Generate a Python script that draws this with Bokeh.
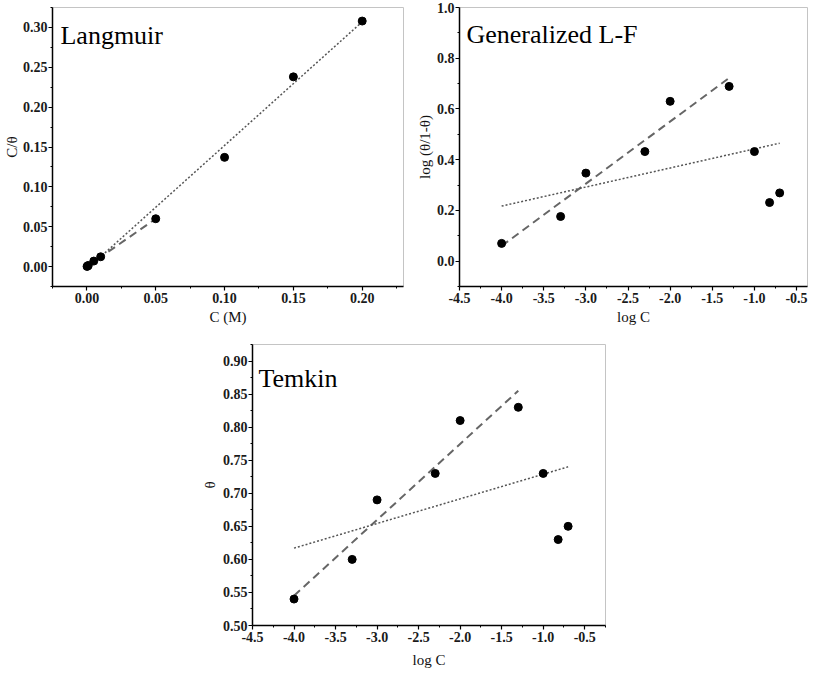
from bokeh.plotting import figure
from bokeh.layouts import row, column, Spacer
from bokeh.models import FixedTicker, NumeralTickFormatter, Label, Range1d
from bokeh.embed import file_html
from bokeh.resources import INLINE

# ---------------- data ----------------
conc = [0.0001, 0.0005, 0.001, 0.005, 0.01, 0.05, 0.1, 0.15, 0.2]
c_over_theta = [0.0002, 0.0008, 0.0014, 0.0069, 0.0123, 0.060, 0.137, 0.238, 0.308]

log_c = [-4.0, -3.3, -3.0, -2.3, -2.0, -1.3, -1.0, -0.82, -0.7]
log_theta_ratio = [0.070, 0.176, 0.347, 0.432, 0.630, 0.689, 0.432, 0.231, 0.269]
theta = [0.54, 0.60, 0.69, 0.73, 0.81, 0.83, 0.73, 0.63, 0.65]

# fitted lines (end points)
lang_dot_x = [0.0001, 0.2]
lang_dot_y = [-0.003, 0.307]
lang_dash_x = [0.0001, 0.05]
lang_dash_y = [0.0001, 0.060]
lf_dash_x = [-4.0, -1.3]
lf_dash_y = [0.060, 0.722]
lf_dot_x = [-4.0, -0.7]
lf_dot_y = [0.217, 0.465]
tk_dash_x = [-4.0, -1.3]
tk_dash_y = [0.545, 0.855]
tk_dot_x = [-4.0, -0.7]
tk_dot_y = [0.617, 0.740]

# ticks
lang_xticks = [0.0, 0.05, 0.10, 0.15, 0.20]
lang_yticks = [0.0, 0.05, 0.10, 0.15, 0.20, 0.25, 0.30]
logc_ticks = [-4.5, -4.0, -3.5, -3.0, -2.5, -2.0, -1.5, -1.0, -0.5]
lf_yticks = [0.0, 0.2, 0.4, 0.6, 0.8, 1.0]
tk_yticks = [0.50, 0.55, 0.60, 0.65, 0.70, 0.75, 0.80, 0.85, 0.90]

FONT = "Liberation Serif"


def minors(ticks, lo, hi):
    step = ticks[1] - ticks[0]
    out = []
    t = ticks[0] - step / 2
    while t <= hi + 1e-9:
        if t >= lo - 1e-9:
            out.append(round(t, 6))
        t += step
    return out


def make_fig(fw, fh, xr, yr, bl, br, bt, bb, xticks, yticks, xfmt, yfmt,
             xlabel, ylabel, title, tdx, tdy, xlab_standoff, ylab_standoff):
    p = figure(width=fw + bl + br, height=fh + bt + bb,
               x_range=Range1d(*xr), y_range=Range1d(*yr),
               output_backend="svg", toolbar_location=None,
               min_border_left=bl, min_border_right=br,
               min_border_top=bt, min_border_bottom=bb)
    p.grid.visible = False
    p.background_fill_color = "white"
    p.border_fill_color = "white"
    p.outline_line_color = "#c4c4c4"
    p.outline_line_width = 1

    p.xaxis.ticker = FixedTicker(ticks=xticks, minor_ticks=minors(xticks, *xr))
    p.yaxis.ticker = FixedTicker(ticks=yticks, minor_ticks=minors(yticks, *yr))
    p.xaxis.formatter = NumeralTickFormatter(format=xfmt)
    p.yaxis.formatter = NumeralTickFormatter(format=yfmt)
    for ax in (p.xaxis[0], p.yaxis[0]):
        ax.axis_line_color = "black"
        ax.axis_line_width = 1.5
        ax.major_tick_line_color = "black"
        ax.major_tick_line_width = 1.2
        ax.minor_tick_line_color = "black"
        ax.minor_tick_line_width = 1
        ax.major_tick_in = 0
        ax.major_tick_out = 4
        ax.minor_tick_in = 0
        ax.minor_tick_out = 2
        ax.major_label_text_font = FONT
        ax.major_label_text_font_size = "14px"
        ax.major_label_text_font_style = "bold"
        ax.major_label_text_color = "#1a1a1a"
        ax.axis_label_text_font = FONT
        ax.axis_label_text_font_size = "15px"
        ax.axis_label_text_font_style = "normal"
        ax.axis_label_text_color = "#111111"
        ax.major_label_standoff = 2
    p.yaxis.major_label_standoff = 1
    p.xaxis.axis_label = xlabel
    p.yaxis.axis_label = ylabel
    p.xaxis.axis_label_standoff = xlab_standoff
    p.yaxis.axis_label_standoff = ylab_standoff

    tx = xr[0] + tdx * (xr[1] - xr[0]) / fw
    ty = yr[1] - tdy * (yr[1] - yr[0]) / fh
    p.add_layout(Label(x=tx, y=ty, text=title, text_font=FONT,
                       text_font_size="26px", text_color="black",
                       text_align="left", text_baseline="alphabetic"))
    return p


def add_series(p, x, y, dash_x, dash_y, dot_x, dot_y):
    p.line(dash_x, dash_y, line_color="#666666", line_width=2,
           line_dash="8 5")
    p.line(dot_x, dot_y, line_color="#555555", line_width=1.5,
           line_dash="2 2")
    p.scatter(x, y, size=8, fill_color="black", line_color="black")


# Langmuir
p1 = make_fig(352, 279, (-0.025, 0.23), (-0.025, 0.325), 51, 10, 7, 42,
              lang_xticks, lang_yticks, "0.00", "0.00",
              "C (M)", "C/\u03b8", "Langmuir", 8, 28, 3, 0)
add_series(p1, conc, c_over_theta, lang_dash_x, lang_dash_y,
           lang_dot_x, lang_dot_y)

# Generalized L-F
p2 = make_fig(349, 279, (-4.5, -0.37), (-0.1, 1.0), 45, 6, 7, 42,
              logc_ticks, lf_yticks, "0.0", "0.0",
              "log C", "log (\u03b8/1-\u03b8)", "Generalized L-F", 7, 27, 3, 1)
add_series(p2, log_c, log_theta_ratio, lf_dash_x, lf_dash_y,
           lf_dot_x, lf_dot_y)

# Temkin
p3 = make_fig(353, 281, (-4.5, -0.25), (0.5, 0.925), 60, 10, 16, 47,
              logc_ticks, tk_yticks, "0.0", "0.00",
              "log C", "\u03b8", "Temkin", 6, 34, 7, 2)
add_series(p3, log_c, theta, tk_dash_x, tk_dash_y, tk_dot_x, tk_dot_y)

layout = column(row(p1, p2), row(Spacer(width=192, height=344), p3))

open("out.html", "w").write(file_html(layout, INLINE))
